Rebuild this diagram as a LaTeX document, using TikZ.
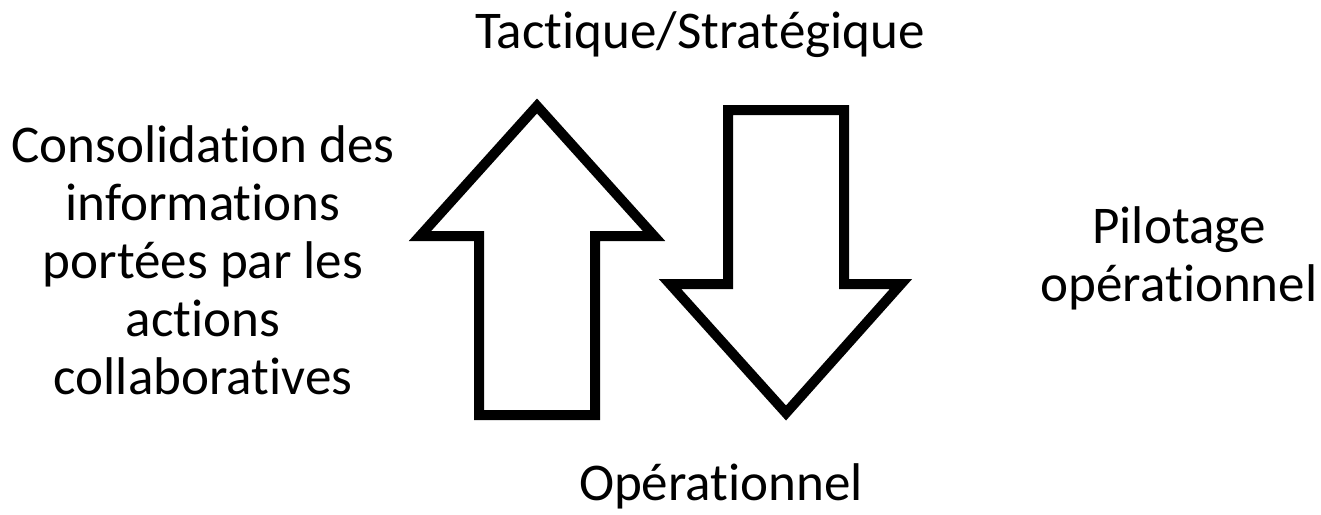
\documentclass[tikz,border=0pt]{standalone}
\usepackage{fontspec}
\setmainfont[Ligatures={NoCommon,NoContextual,NoRequired}]{Carlito}
\usepackage{tikz}

\begin{document}
\begin{tikzpicture}[x=0.02cm,y=-0.02cm]
	\tikzset{fleche/.style={draw=black,line width=0.2cm,line join=miter},
		texte/.style={font=\fontsize{30.2}{33}\selectfont,align=center,inner sep=0pt}}
	\useasboundingbox (0,0) rectangle (1321,514);
	
	\draw[fleche] (537,106) -- (654,236) -- (595,236) -- (595,415) -- (479,415) -- (479,236) -- (420,236) -- cycle;
	\draw[fleche] (728,110) -- (844,110) -- (844,284) -- (901,284) -- (786,413) -- (670,284) -- (728,284) -- cycle;
	
	\node[texte,anchor=base] (T) at (700,48) {Tactique/Stratégique};
	\node[texte,anchor=base] (O) at (721,500) {Opérationnel};
	
	\node[texte] (C) at (203,260) {Consolidation des\\informations\\portées par les\\actions\\collaboratives};
	\node[texte] (P) at (1179,258) {Pilotage\\opérationnel};
	
\end{tikzpicture}
\end{document}
